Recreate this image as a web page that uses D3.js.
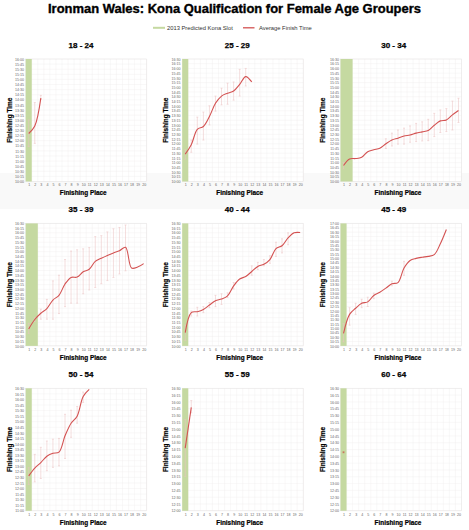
<!DOCTYPE html>
<html><head><meta charset="utf-8">
<script src="https://cdn.jsdelivr.net/npm/d3@7"></script>
<style>body{margin:0;background:#fff}svg{display:block}</style>
</head><body><svg id="c" width="469" height="530"></svg>
<script>
const ageGroups = ["18 - 24","25 - 29","30 - 34","35 - 39","40 - 44","45 - 49","50 - 54","55 - 59","60 - 64"];
const places = [1,2,3,4,5,6,7,8,9,10,11,12,13,14,15,16,17,18,19,20];
const konaSlots = [1,1,2,2,1,1,1,1,1];
const axisMin = ["10:00","10:00","10:00","10:00","10:00","10:00","11:00","12:00","12:00"];
const axisMax = ["16:00","16:30","16:30","16:30","16:30","17:00","16:30","16:30","16:30"];
const legendLabels = ["2013 Predicted Kona Slot","Average Finish Time"];

const avgFinish = [
  ["12:21","12:43","14:05"],
  ["11:27","11:57","12:46","12:55","13:27","14:09","14:32","14:41","14:48","15:09","15:34","15:17"],
  ["10:51","11:12","11:13","11:17","11:35","11:41","11:46","12:00","12:12","12:18","12:25","12:28","12:34","12:38","12:42","12:59","13:13","13:16","13:32","13:46"],
  ["10:54","11:24","11:44","11:59","12:26","12:41","13:17","13:38","13:39","13:56","14:04","14:29","14:39","14:48","14:56","15:03","15:14","14:08","14:11","14:22"],
  ["10:42","11:46","11:49","11:56","12:10","12:24","12:29","12:39","13:11","13:33","13:41","13:57","14:13","14:20","14:35","15:10","15:19","15:44","16:00","16:01"],
  ["10:43","11:48","12:09","12:26","12:31","12:53","13:04","13:18","13:33","13:37","14:27","14:53","15:00","15:04","15:07","15:13","15:50","16:39"],
  ["12:34","12:55","13:10","13:27","13:35","13:38","14:22","14:56","15:15","16:08","16:27"],
  ["14:18","15:48"],
  ["14:09"]
];
const rangeHigh = [
  ["13:01","13:52","14:13"],
  ["11:41","12:12","13:25","13:41","14:01","14:32","14:57","15:13","15:17","15:57","16:00",null],
  ["11:01",null,null,null,null,null,null,"12:16","12:34","12:44","12:50","12:57","13:05","13:10","13:18","13:37","13:48","13:52","14:16","14:25"],
  ["11:12","11:30","11:57","12:28","13:27","13:45","14:35","15:02","15:06","15:09","15:13","15:48","15:51","16:03","16:13","16:17","16:25",null,null,null],
  ["11:06","11:51","12:03","12:05","12:18","12:41","12:46","12:49","13:22",null,null,"14:15","14:26","14:35","14:47","15:30","15:41","16:00",null,null],
  ["11:17","12:11","12:26","12:40","12:47","13:01",null,null,"13:42",null,"14:50",null,null,null,null,null,null,null],
  ["12:56","13:32","13:51","14:08","14:13","14:15","15:20","15:31","15:41","16:20",null],
  ["15:21","16:03"],
  [null]
];
const rangeLow = [
  ["11:43","11:52","14:02"],
  ["11:11","11:33","11:59","12:12","13:00","13:44","14:04","14:06","14:19","14:32","15:04",null],
  ["10:40",null,null,null,null,null,null,"11:45","11:53","11:59","11:59","12:05","12:07","12:09","12:10","12:23","12:36","12:39","12:44","13:08"],
  ["10:40","11:18","11:25","11:25","11:25","11:43","12:05","12:16","12:16","12:46","12:58","13:06","13:18","13:28","13:38","13:49","13:59",null,null,null],
  ["10:18","11:35","11:35","11:46","12:02","12:05","12:12","12:34","13:01",null,null,"13:45","14:03","14:15","14:23","14:45","14:56","15:22",null,null],
  ["10:14","11:11","11:48","12:11","12:15","12:42",null,null,"13:26",null,"14:02",null,null,null,null,null,null,null],
  ["12:11","12:18","12:27","12:48","12:57","13:01","13:21","14:18","14:56","15:52",null],
  ["13:16","15:36"],
  [null]
];

const toMin = s => { const p = s.split(":"); return (+p[0]) * 60 + (+p[1]); };
const fmt = m => String(Math.floor(m / 60)).padStart(2, "0") + ":" + String(m % 60).padStart(2, "0");

const svg = d3.select("#c");
const FONT = "'Liberation Sans', Arial, sans-serif";

// faint band behind first row's axis titles
svg.append("rect").attr("x", 0).attr("y", 173).attr("width", 469).attr("height", 36).attr("fill", "#f9f9f9");

// Title
svg.append("text").attr("x", 234.5).attr("y", 13).attr("text-anchor", "middle")
  .attr("font-family", FONT).attr("font-weight", "bold").attr("font-size", 12.5)
  .attr("textLength", 373).attr("lengthAdjust", "spacingAndGlyphs")
  .attr("stroke", "#000").attr("stroke-width", 0.35).attr("fill", "#000")
  .text("Ironman Wales: Kona Qualification for Female Age Groupers");

// Legend
const lg = svg.append("g").attr("font-family", FONT).attr("font-size", 5.8).attr("fill", "#333");
lg.append("rect").attr("x", 153).attr("y", 26.8).attr("width", 12).attr("height", 2).attr("fill", "#c5d9a1");
lg.append("text").attr("x", 167).attr("y", 29.8).text(legendLabels[0]);
lg.append("line").attr("x1", 243).attr("x2", 254.5).attr("y1", 27.8).attr("y2", 27.8).attr("stroke", "#d35252").attr("stroke-width", 1.3);
lg.append("text").attr("x", 259).attr("y", 29.8).text(legendLabels[1]);

const colLeft = [25.7, 182.2, 340.5];
const colCell = [0, 156.3, 312.7];
const rowTop = [59, 223.4, 388.3];
const plotW = 121, plotH = 122.5;

ageGroups.forEach((name, i) => {
  const col = i % 3, row = Math.floor(i / 3);
  const x0 = colLeft[col], y0 = rowTop[row];
  const g = svg.append("g").attr("transform", `translate(${x0},${y0})`);
  const x = d3.scaleLinear().domain([0.5, 20.5]).range([0, plotW]);
  const yMin = toMin(axisMin[i]), yMax = toMin(axisMax[i]);
  const y = d3.scaleLinear().domain([yMin, yMax]).range([plotH, 0]);
  const yTicks = d3.range(yMin, yMax + 1, 15);

  g.append("rect").attr("width", plotW).attr("height", plotH).attr("fill", "#fff");

  // grid
  g.append("g").selectAll("line").data(yTicks).join("line")
    .attr("x1", 0).attr("x2", plotW).attr("y1", d => y(d)).attr("y2", d => y(d))
    .attr("stroke", "#f1eded").attr("stroke-width", 0.4);
  g.append("g").selectAll("line").data(places).join("line")
    .attr("x1", d => x(d + 0.5)).attr("x2", d => x(d + 0.5)).attr("y1", 0).attr("y2", plotH)
    .attr("stroke", "#f1eded").attr("stroke-width", 0.4);
  g.append("rect").attr("width", plotW).attr("height", plotH).attr("fill", "none")
    .attr("stroke", "#e6e3e3").attr("stroke-width", 0.5);

  // kona band
  g.append("rect").attr("x", x(0.5)).attr("y", 0).attr("width", x(konaSlots[i] + 0.5) - x(0.5))
    .attr("height", plotH).attr("fill", "#c5d9a1");

  // axes
  const ya = g.append("g").call(d3.axisLeft(y).tickValues(yTicks).tickFormat(fmt).tickSize(0).tickPadding(1.6));
  ya.select(".domain").remove();
  ya.selectAll("text").attr("font-family", FONT).attr("font-size", 3.6).attr("fill", "#666");
  const xa = g.append("g").attr("transform", `translate(0,${plotH})`)
    .call(d3.axisBottom(x).tickValues(places).tickFormat(d3.format("d")).tickSize(0).tickPadding(2.2));
  xa.select(".domain").remove();
  xa.selectAll("text").attr("font-family", FONT).attr("font-size", 3.6).attr("fill", "#666");

  // error bars
  const bars = places.slice(0, avgFinish[i].length).map((p, k) => ({p, hi: rangeHigh[i][k], lo: rangeLow[i][k]}))
    .filter(d => d.hi && d.lo);
  const eb = g.append("g").attr("stroke", "#ebc3c3").attr("stroke-width", 0.55);
  eb.selectAll(".v").data(bars).join("line").attr("class", "v")
    .attr("x1", d => x(d.p)).attr("x2", d => x(d.p)).attr("y1", d => y(toMin(d.hi))).attr("y2", d => y(toMin(d.lo)));
  eb.selectAll(".t").data(bars).join("line").attr("class", "t")
    .attr("x1", d => x(d.p) - 1).attr("x2", d => x(d.p) + 1).attr("y1", d => y(toMin(d.hi))).attr("y2", d => y(toMin(d.hi)));
  eb.selectAll(".b").data(bars).join("line").attr("class", "b")
    .attr("x1", d => x(d.p) - 1).attr("x2", d => x(d.p) + 1).attr("y1", d => y(toMin(d.lo))).attr("y2", d => y(toMin(d.lo)));

  // line
  const pts = avgFinish[i].map((t, k) => [places[k], toMin(t)]);
  if (pts.length > 1) {
    g.append("path").datum(pts)
      .attr("d", d3.line().x(d => x(d[0])).y(d => y(d[1])).curve(d3.curveCatmullRom.alpha(0.5)))
      .attr("fill", "none").attr("stroke", "#d35252").attr("stroke-width", 1.1);
  } else {
    g.append("rect").attr("x", x(pts[0][0]) - 0.9).attr("y", y(pts[0][1]) - 0.9)
      .attr("width", 1.8).attr("height", 1.8).attr("fill", "#c9765e");
  }

  // panel title
  svg.append("text").attr("x", colCell[col] + 81).attr("y", y0 - 11.5).attr("text-anchor", "middle")
    .attr("font-family", FONT).attr("font-weight", "bold").attr("font-size", 8)
    .attr("stroke", "#000").attr("stroke-width", 0.25).text(name);
  // axis titles
  svg.append("text").attr("x", x0 + plotW / 2 - 3).attr("y", y0 + plotH + 13.8).attr("text-anchor", "middle")
    .attr("font-family", FONT).attr("font-weight", "bold").attr("font-size", 6.4)
    .attr("stroke", "#000").attr("stroke-width", 0.2).text("Finishing Place");
  svg.append("text").attr("transform", `translate(${colCell[col] + 12},${y0 + plotH / 2}) rotate(-90)`)
    .attr("text-anchor", "middle")
    .attr("font-family", FONT).attr("font-weight", "bold").attr("font-size", 6.4)
    .attr("stroke", "#000").attr("stroke-width", 0.2).text("Finishing Time");
});
</script></body></html>
